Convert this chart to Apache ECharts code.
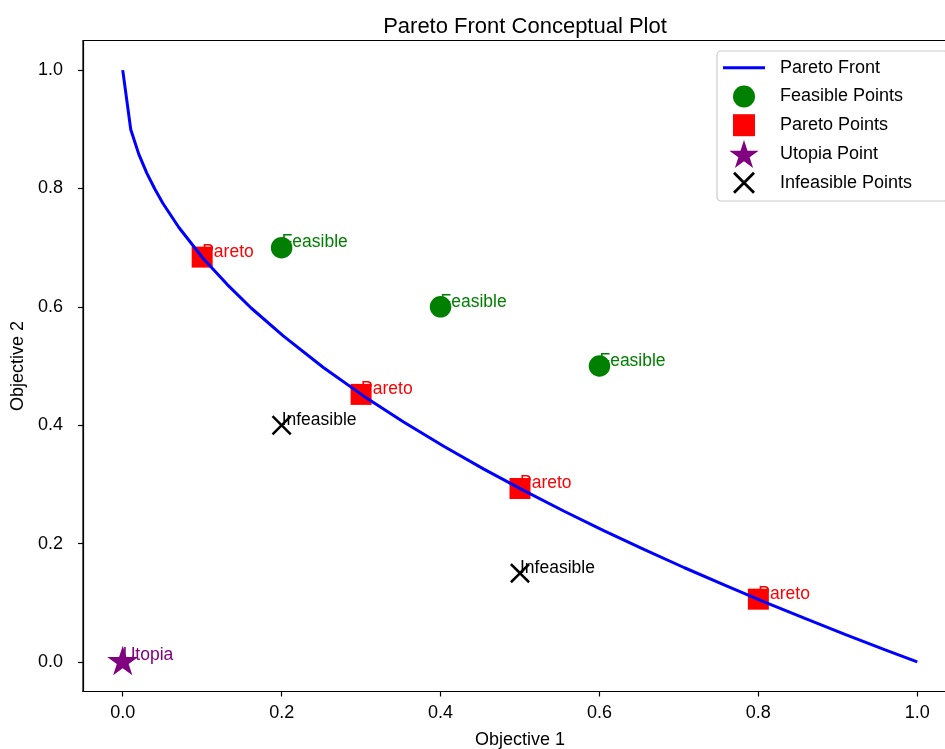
<!DOCTYPE html>
<html>
<head>
<meta charset="utf-8">
<script src="https://cdn.jsdelivr.net/npm/echarts@6/dist/echarts.min.js"></script>
<style>
html,body{margin:0;padding:0;background:#fff;}
#chart{width:945px;height:749px;}
</style>
</head>
<body>
<div id="chart"></div>
<script>
// ---- data ----
const frontX = [0, 0.0101, 0.0202, 0.0303, 0.0404, 0.0505, 0.0707, 0.101, 0.1313, 0.1616, 0.202, 0.2525, 0.303, 0.3535, 0.404, 0.4545, 0.505, 0.5556, 0.606, 0.6566, 0.707, 0.7576, 0.808, 0.8586, 0.909, 0.9596, 1.0];
const frontY = [1.0, 0.8995, 0.858, 0.826, 0.799, 0.775, 0.734, 0.682, 0.638, 0.598, 0.551, 0.4975, 0.4495, 0.4055, 0.3644, 0.3258, 0.2894, 0.2546, 0.2215, 0.1897, 0.1591, 0.1296, 0.1011, 0.0734, 0.0465, 0.0204, 0.0];
const feasibleX = [0.2, 0.4, 0.6];
const feasibleY = [0.7, 0.6, 0.5];
const paretoX = [0.1, 0.3, 0.5, 0.8];
const paretoY = [0.684, 0.452, 0.293, 0.106];
const utopiaX = [0.0];
const utopiaY = [0.0];
const infeasibleX = [0.2, 0.5];
const infeasibleY = [0.4, 0.15];
const xTicks = [0.0, 0.2, 0.4, 0.6, 0.8, 1.0];
const yTicks = [0.0, 0.2, 0.4, 0.6, 0.8, 1.0];
const seriesNames = ['Pareto Front', 'Feasible Points', 'Pareto Points', 'Utopia Point', 'Infeasible Points'];
const pointLabels = ['Feasible', 'Pareto', 'Utopia', 'Infeasible'];

const FONT = 'Liberation Sans, Arial, Helvetica, sans-serif';
const zip = (xs, ys) => xs.map((x, i) => [x, ys[i]]);

const STAR = 'path://M50,0 L61.23,34.55 L97.55,34.55 L68.17,55.9 L79.39,90.45 L50,69.1 L20.61,90.45 L31.83,55.9 L2.45,34.55 L38.77,34.55 Z';
const XMARK = 'path://M0,1.8 L1.8,0 L10,8.2 L18.2,0 L20,1.8 L11.8,10 L20,18.2 L18.2,20 L10,11.8 L1.8,20 L0,18.2 L8.2,10 Z';
// legend icons (padded boxes so every row has the same height)
const LEG_LINE = 'path://M0,0 M0,12.5 L42,12.5 L42,15.5 L0,15.5 Z M42,28';
const LEG_CIRCLE = 'path://M0,0 M3,14 A11,11 0 1,0 25,14 A11,11 0 1,0 3,14 Z M28,28';
const LEG_SQUARE = 'path://M0,0 M3,3 L25,3 L25,25 L3,25 Z M28,28';
const LEG_X = 'path://M0,0 M3,5 L5,3 L14,12 L23,3 L25,5 L16,14 L25,23 L23,25 L14,16 L5,25 L3,23 L12,14 Z M28,28';

function pointLabel(text, color) {
  return {
    show: true,
    position: 'inside',
    align: 'left',
    verticalAlign: 'bottom',
    offset: [0, 4],
    formatter: text,
    color: color,
    fontFamily: FONT,
    fontSize: 17.5
  };
}

const chart = echarts.init(document.getElementById('chart'), null, {renderer: 'canvas'});
const axisCommon = {
  type: 'value',
  axisLine: {show: true, onZero: false, lineStyle: {color: '#000', width: 1.2}},
  axisTick: {show: true, inside: false, length: 5, lineStyle: {color: '#000', width: 1.2}},
  splitLine: {show: false},
  nameTextStyle: {color: '#000', fontFamily: FONT, fontSize: 18},
};
chart.setOption({
  animation: false,
  backgroundColor: '#fff',
  title: {
    text: 'Pareto Front Conceptual Plot',
    left: 520,
    top: 11,
    textAlign: 'center',
    textStyle: {color: '#000', fontFamily: FONT, fontSize: 22, fontWeight: 'normal'}
  },
  grid: {
    left: 83, top: 40.5, width: 874, height: 651,
    show: true, borderColor: '#000', borderWidth: 1.2, backgroundColor: 'transparent',
    containLabel: false,
    outerBoundsMode: 'none'
  },
  xAxis: Object.assign({}, axisCommon, {
    min: -0.05, max: 1.05,
    name: 'Objective 1', nameLocation: 'middle', nameGap: 40,
    axisTick: Object.assign({}, axisCommon.axisTick, {customValues: xTicks}),
    axisLabel: {customValues: xTicks, formatter: v => v.toFixed(1), color: '#000', fontFamily: FONT, fontSize: 18, margin: 13}
  }),
  yAxis: Object.assign({}, axisCommon, {
    min: -0.05, max: 1.05,
    name: 'Objective 2', nameLocation: 'middle', nameGap: 48, nameRotate: 90,
    axisTick: Object.assign({}, axisCommon.axisTick, {customValues: yTicks}),
    axisLabel: {customValues: yTicks, formatter: v => v.toFixed(1), color: '#000', fontFamily: FONT, fontSize: 18, margin: 20}
  }),
  legend: {
    data: [
      {name: seriesNames[0], icon: LEG_LINE},
      {name: seriesNames[1], icon: LEG_CIRCLE},
      {name: seriesNames[2], icon: LEG_SQUARE},
      {name: seriesNames[3], icon: STAR},
      {name: seriesNames[4], icon: LEG_X}
    ],
    orient: 'vertical',
    left: 717, top: 51,
    padding: [2.7, 36, 4.3, 6],
    itemWidth: 42, itemHeight: 28, itemGap: 0.75,
    symbolKeepAspect: true,
    backgroundColor: 'rgba(255,255,255,0.8)',
    borderColor: '#cccccc', borderWidth: 1.2, borderRadius: 4,
    selectedMode: false,
    textStyle: {color: '#000', fontFamily: FONT, fontSize: 18, padding: [0, 0, 0, 10]}
  },
  series: [
    {
      name: 'Feasible Points', type: 'scatter', data: zip(feasibleX, feasibleY),
      symbol: 'circle', symbolSize: 21.5,
      itemStyle: {color: '#008000', opacity: 1},
      label: pointLabel(pointLabels[0], '#008000'),
      emphasis: {disabled: true}, z: 2
    },
    {
      name: 'Pareto Points', type: 'scatter', data: zip(paretoX, paretoY),
      symbol: 'rect', symbolSize: 21,
      itemStyle: {color: '#ff0000', opacity: 1},
      label: pointLabel(pointLabels[1], '#ff0000'),
      emphasis: {disabled: true}, z: 2
    },
    {
      name: 'Pareto Front', type: 'line', data: zip(frontX, frontY),
      symbol: 'none', smooth: false,
      lineStyle: {color: '#0000ff', width: 3},
      itemStyle: {color: '#0000ff'},
      emphasis: {disabled: true}, z: 3
    },
    {
      name: 'Utopia Point', type: 'scatter', data: zip(utopiaX, utopiaY),
      symbol: STAR, symbolSize: [31, 29.5], symbolOffset: [0, -1.5],
      itemStyle: {color: '#800080', opacity: 1},
      label: pointLabel(pointLabels[2], '#800080'),
      emphasis: {disabled: true}, z: 4
    },
    {
      name: 'Infeasible Points', type: 'scatter', data: zip(infeasibleX, infeasibleY),
      symbol: XMARK, symbolSize: 20,
      itemStyle: {color: '#000000', opacity: 1},
      label: pointLabel(pointLabels[3], '#000000'),
      emphasis: {disabled: true}, z: 4
    }
  ]
});
</script>
</body>
</html>
